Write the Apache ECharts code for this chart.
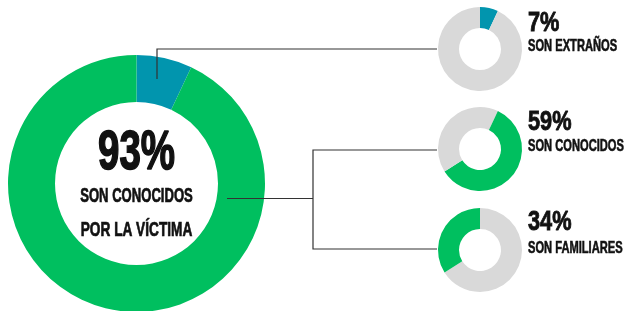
<!DOCTYPE html>
<html>
<head>
<meta charset="utf-8">
<script src="https://cdn.jsdelivr.net/npm/echarts@6/dist/echarts.min.js"></script>
<style>
html,body{margin:0;padding:0;background:#fff;}
#chart{width:626px;height:311px;}
</style>
</head>
<body>
<div id="chart"></div>
<script>
// Main donut
const mainCategories = ['Extraños', 'Conocidos por la víctima'];
const mainValues = [7, 93];
const mainLabel = '93%';
const mainText = ['SON CONOCIDOS', 'POR LA VÍCTIMA'];

// Breakdown donuts
const subCategories = ['SON EXTRAÑOS', 'SON CONOCIDOS', 'SON FAMILIARES'];
const subValues = [7, 59, 34];
const subLabels = ['7%', '59%', '34%'];

const BLUE = '#0195ae';
const GREEN = '#00bf5f';
const GREY = '#d9d9d9';
const LINE = '#333333';
const INK = '#111111';
const FONT = '"Liberation Sans", Arial, sans-serif';

const chart = echarts.init(document.getElementById('chart'), null, {renderer: 'canvas'});

const series = [];
series.push({
  type: 'pie',
  center: [136.5, 183.5],
  radius: [81.5, 128.5],
  startAngle: 90,
  clockwise: true,
  silent: true,
  label: {show: false},
  labelLine: {show: false},
  itemStyle: {borderWidth: 0},
  data: mainCategories.map((c, i) => ({
    name: c, value: mainValues[i],
    itemStyle: {color: i === 0 ? BLUE : GREEN}
  }))
});

const smallCenters = [[480, 49], [480, 149], [480, 250]];
let offset = 0;
subValues.forEach((v, i) => {
  const data = [];
  if (offset > 0) data.push({name: 'otros-a', value: offset, itemStyle: {color: GREY}});
  data.push({name: subCategories[i], value: v, itemStyle: {color: i === 0 ? BLUE : GREEN}});
  const rest = 100 - offset - v;
  if (rest > 0) data.push({name: 'otros-b', value: rest, itemStyle: {color: GREY}});
  series.push({
    type: 'pie',
    center: smallCenters[i],
    radius: [21, 42],
    startAngle: 90,
    clockwise: true,
    silent: true,
    label: {show: false},
    labelLine: {show: false},
    itemStyle: {borderWidth: 0},
    data
  });
  offset += v;
});

const textY = [[23, 46], [122.5, 146], [222.5, 248.5]];
const graphic = [];
function txt(x, y, sx, text, size, align, sw) {
  return {type: 'text', x, y, scaleX: sx, z: 20,
    style: {text, fill: INK, stroke: INK, lineWidth: sw, font: 'bold ' + size + 'px ' + FONT,
      textAlign: align, textVerticalAlign: 'middle'}};
}
// center texts
graphic.push(txt(136.5, 153.5, 0.70, mainLabel, 55, 'center', 1.6));
graphic.push(txt(136.5, 197, 0.67, mainText[0], 19.5, 'center', 0.7));
graphic.push(txt(136.5, 231, 0.70, mainText[1], 19.5, 'center', 0.7));
// side labels
subLabels.forEach((l, i) => {
  graphic.push(txt(528, textY[i][0], 0.79, l, 27.5, 'left', 0.9));
  graphic.push(txt(528, textY[i][1], 0.655, subCategories[i], 17, 'left', 0.6));
});
// connector lines
graphic.push({type: 'polyline', shape: {points: [[157, 79], [157, 49], [437, 49]]}, style: {stroke: LINE, lineWidth: 1.2, fill: null}, z: 10});
graphic.push({type: 'polyline', shape: {points: [[227, 198.5], [313, 198.5]]}, style: {stroke: LINE, lineWidth: 1.2, fill: null}, z: 10});
graphic.push({type: 'polyline', shape: {points: [[437, 150], [313, 150], [313, 249], [437, 249]]}, style: {stroke: LINE, lineWidth: 1.2, fill: null}, z: 10});

chart.setOption({
  animation: false,
  backgroundColor: '#ffffff',
  series,
  graphic
});
</script>
</body>
</html>
